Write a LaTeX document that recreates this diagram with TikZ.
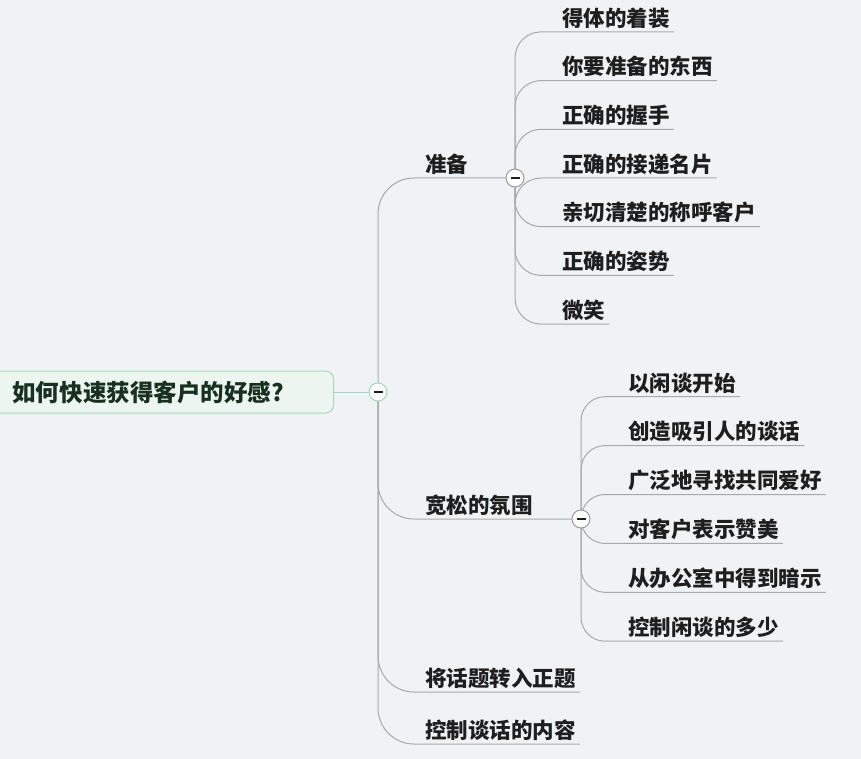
\documentclass[tikz,border=0pt]{standalone}
\usepackage{fontspec}
\setmainfont{Noto Sans CJK SC}
\usepackage{xcolor}
\usetikzlibrary{backgrounds}
\definecolor{bgcol}{HTML}{F0F3F6}
\definecolor{txtcol}{HTML}{1E1E1E}
\definecolor{roottxt}{HTML}{17301F}
\definecolor{rootline}{HTML}{A6D8B6}
\definecolor{rootfill}{HTML}{EDF5F0}
\definecolor{linecol}{HTML}{A8A8A8}
\definecolor{foldline}{HTML}{9A9A9A}

\begin{document}
\begin{tikzpicture}[x=1pt, y=-1pt,
    topic/.style={font=\bfseries\fontsize{21.5}{24}\selectfont, text=txtcol,
                  anchor=south west, inner xsep=4pt, inner ysep=5.5pt, text depth=0pt},
    rootbox/.style={draw=rootline, fill=rootfill, rounded corners=8pt, line width=1pt,
                    font=\bfseries\fontsize{23.5}{26}\selectfont, text=roottxt,
                    text width=299pt, align=left, inner xsep=22pt, minimum height=42pt,
                    text height=21pt, text depth=2pt, anchor=west},
    fold/.style={circle, draw=foldline, fill=white, line width=1pt, minimum size=18pt,
                 inner sep=0pt,
                 path picture={\draw[line width=1.2pt, txtcol]
                   ([xshift=-4.5pt]path picture bounding box.center) --
                   ([xshift=4.5pt]path picture bounding box.center);}},
    branch/.style={draw=linecol, line width=1pt, rounded corners=#1},
    branch/.default=26pt
  ]
  \useasboundingbox (0,0) rectangle (861,759);

  % root
  \node[rootbox] (root) at (-10,392) {如何快速获得客户的好感?};
  \node[fold, draw=rootline] (rc) at (378,392) {};

  % first level
  \node[topic] (zb) at (421,178) {准备};
  \node[topic] (ks) at (421,519) {宽松的氛围};
  \node[topic] (zt) at (421,692) {将话题转入正题};
  \node[topic] (nr) at (421,744) {控制谈话的内容};
  \node[fold] (c1) at (515,178) {};
  \node[fold] (c2) at (581,519) {};

  % second level
  \foreach \t [count=\i] in {得体的着装, 你要准备的东西, 正确的握手, 正确的接递名片,
                             亲切清楚的称呼客户, 正确的姿势, 微笑}
    \node[topic] (zb\i) at (558, {31.9+(\i-1)*48.7}) {\t};
  \foreach \t [count=\i] in {以闲谈开始, 创造吸引人的谈话, 广泛地寻找共同爱好,
                             对客户表示赞美, 从办公室中得到暗示, 控制闲谈的多少}
    \node[topic] (ks\i) at (624, {396.7+(\i-1)*48.9}) {\t};

  \begin{scope}[on background layer]
    \fill[bgcol] (0,0) rectangle (861,759);
    \draw[rootline, line width=1pt] (root) -- (rc);
    \draw[branch=36pt] (rc.center) |- (c1.center);
    \draw[branch=36pt] (rc.center) |- (c2.center);
    \draw[branch=36pt] (rc.center) |- (zt.south east);
    \draw[branch=36pt] (rc.center) |- (nr.south east);
    \foreach \i in {1,...,7}
      \draw[branch] (c1.center) |- (zb\i.south east);
    \foreach \i in {1,...,6}
      \draw[branch=24pt] (c2.center) |- (ks\i.south east);
  \end{scope}
\end{tikzpicture}
\end{document}
